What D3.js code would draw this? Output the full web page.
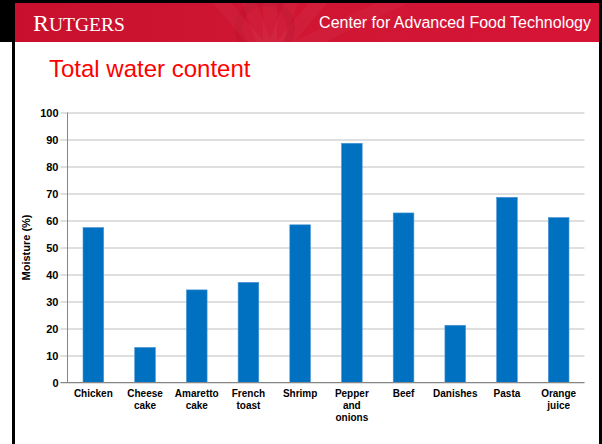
<!DOCTYPE html>
<html>
<head>
<meta charset="utf-8">
<script src="https://cdn.jsdelivr.net/npm/d3@7"></script>
<style>
  html, body { margin: 0; padding: 0; background: #fff; }
  svg { display: block; }
</style>
</head>
<body>
<svg id="slide" width="602" height="444"></svg>
<script>
// Moisture content of the tested foods
const categories = ["Chicken", "Cheese cake", "Amaretto cake", "French toast", "Shrimp",
                    "Pepper and onions", "Beef", "Danishes", "Pasta", "Orange juice"];
const categoryLines = [["Chicken"], ["Cheese", "cake"], ["Amaretto", "cake"], ["French", "toast"],
                       ["Shrimp"], ["Pepper", "and", "onions"], ["Beef"], ["Danishes"], ["Pasta"],
                       ["Orange", "juice"]];
const moisture = [57.4, 13.0, 34.3, 37.1, 58.4, 88.6, 62.8, 21.2, 68.6, 61.1];
const yTicks = [0, 10, 20, 30, 40, 50, 60, 70, 80, 90, 100];

const svg = d3.select("#slide");
const W = 602, H = 444;

// ---- slide frame and banner ----
const defs = svg.append("defs");
const grad = defs.append("linearGradient").attr("id", "banner").attr("x1", 0).attr("x2", 1);
grad.append("stop").attr("offset", "0%").attr("stop-color", "#c8102e");
grad.append("stop").attr("offset", "45%").attr("stop-color", "#cf1633");
grad.append("stop").attr("offset", "100%").attr("stop-color", "#d61436");

svg.append("rect").attr("x", 0).attr("y", 0).attr("width", W).attr("height", H).attr("fill", "#fff");
svg.append("rect").attr("x", 0).attr("y", 0).attr("width", W).attr("height", 42).attr("fill", "#000");
svg.append("rect").attr("x", 14.5).attr("y", 3).attr("width", 584.5).attr("height", 39)
  .attr("fill", "url(#banner)");

// faint rays across the banner
const banner = svg.append("g");
banner.append("clipPath").attr("id", "bclip")
  .append("rect").attr("x", 14.5).attr("y", 3).attr("width", 584.5).attr("height", 39);
const rays = banner.append("g").attr("clip-path", "url(#bclip)");
[[-40, 0.035], [-20, 0.03], [0, 0.035], [20, 0.03], [40, 0.035], [65, 0.03]].forEach(([a, o]) => {
  const cx = 270, cy = 60, len = 300, r = a * Math.PI / 180;
  rays.append("line")
    .attr("x1", cx).attr("y1", cy)
    .attr("x2", cx + len * Math.sin(r)).attr("y2", cy - len * Math.cos(r))
    .attr("stroke", "#fff").attr("stroke-opacity", o).attr("stroke-width", 14);
});
rays.append("circle").attr("cx", 265).attr("cy", 28).attr("r", 26)
  .attr("fill", "none").attr("stroke", "#8e0d22").attr("stroke-opacity", 0.1).attr("stroke-width", 8);

// logo and banner caption
const logo = svg.append("text").attr("x", 33).attr("y", 30.5)
  .attr("font-family", "'Liberation Serif', 'Times New Roman', serif")
  .attr("fill", "#fff");
logo.append("tspan").attr("font-size", 24).text("R");
logo.append("tspan").attr("font-size", 19.5).text("UTGERS");

svg.append("text").attr("x", 591).attr("y", 27.5).attr("text-anchor", "end")
  .attr("font-family", "'Liberation Sans', Arial, sans-serif").attr("font-size", 16)
  .attr("fill", "#fff").text("Center for Advanced Food Technology");

// side borders
svg.append("rect").attr("x", 12).attr("y", 0).attr("width", 3).attr("height", H).attr("fill", "#000");
svg.append("rect").attr("x", 599).attr("y", 0).attr("width", 3).attr("height", H).attr("fill", "#000");

// slide title
svg.append("text").attr("x", 49).attr("y", 77)
  .attr("font-family", "'Liberation Sans', Arial, sans-serif").attr("font-size", 24)
  .attr("fill", "#ff0000").text("Total water content");

// ---- chart ----
const plot = { left: 67.5, right: 584.5, top: 112.5, bottom: 382.5 };
const font = "'Liberation Sans', Arial, sans-serif";

const x = d3.scaleBand().domain(categories)
  .range([plot.left, plot.right]).paddingInner(0.6).paddingOuter(0.3);
const y = d3.scaleLinear().domain([0, 100]).range([plot.bottom, plot.top]);

const chart = svg.append("g");

// gridlines with short outside ticks
const yAxis = d3.axisLeft(y).tickValues(yTicks).tickSize(-(plot.right - plot.left)).tickPadding(10);
const gy = chart.append("g").attr("transform", `translate(${plot.left},0)`).call(yAxis);
gy.select(".domain").remove();
gy.selectAll(".tick line").attr("stroke", "#bfbfbf").attr("stroke-width", 1)
  .attr("x1", -7);
gy.selectAll(".tick text")
  .attr("font-family", font).attr("font-size", 11).attr("font-weight", "bold")
  .attr("fill", "#000").attr("x", -9);

// bars
chart.append("g").selectAll("rect").data(categories).join("rect")
  .attr("x", d => x(d))
  .attr("y", (d, i) => y(moisture[i]))
  .attr("width", x.bandwidth())
  .attr("height", (d, i) => y(0) - y(moisture[i]))
  .attr("fill", "#0070c0")
  .attr("stroke", "#4d96d6").attr("stroke-width", 0.6);

// axis lines
chart.append("line").attr("x1", plot.left).attr("x2", plot.left)
  .attr("y1", plot.top).attr("y2", plot.bottom).attr("stroke", "#868686");
chart.append("line").attr("x1", plot.left - 7).attr("x2", plot.right)
  .attr("y1", plot.bottom).attr("y2", plot.bottom).attr("stroke", "#868686");

// category labels
const labels = chart.append("g").selectAll("text").data(categories).join("text")
  .attr("x", d => x(d) + x.bandwidth() / 2)
  .attr("y", 397)
  .attr("text-anchor", "middle")
  .attr("font-family", font).attr("font-size", 10).attr("font-weight", "bold").attr("fill", "#000");
labels.each(function (d, i) {
  d3.select(this).selectAll("tspan").data(categoryLines[i]).join("tspan")
    .attr("x", x(d) + x.bandwidth() / 2)
    .attr("dy", (t, j) => j === 0 ? 0 : 12)
    .text(t => t);
});

// y-axis title
svg.append("text")
  .attr("transform", `translate(30,${(plot.top + plot.bottom) / 2}) rotate(-90)`)
  .attr("text-anchor", "middle")
  .attr("font-family", font).attr("font-size", 11).attr("font-weight", "bold")
  .attr("fill", "#000").text("Moisture (%)");
</script>
</body>
</html>
